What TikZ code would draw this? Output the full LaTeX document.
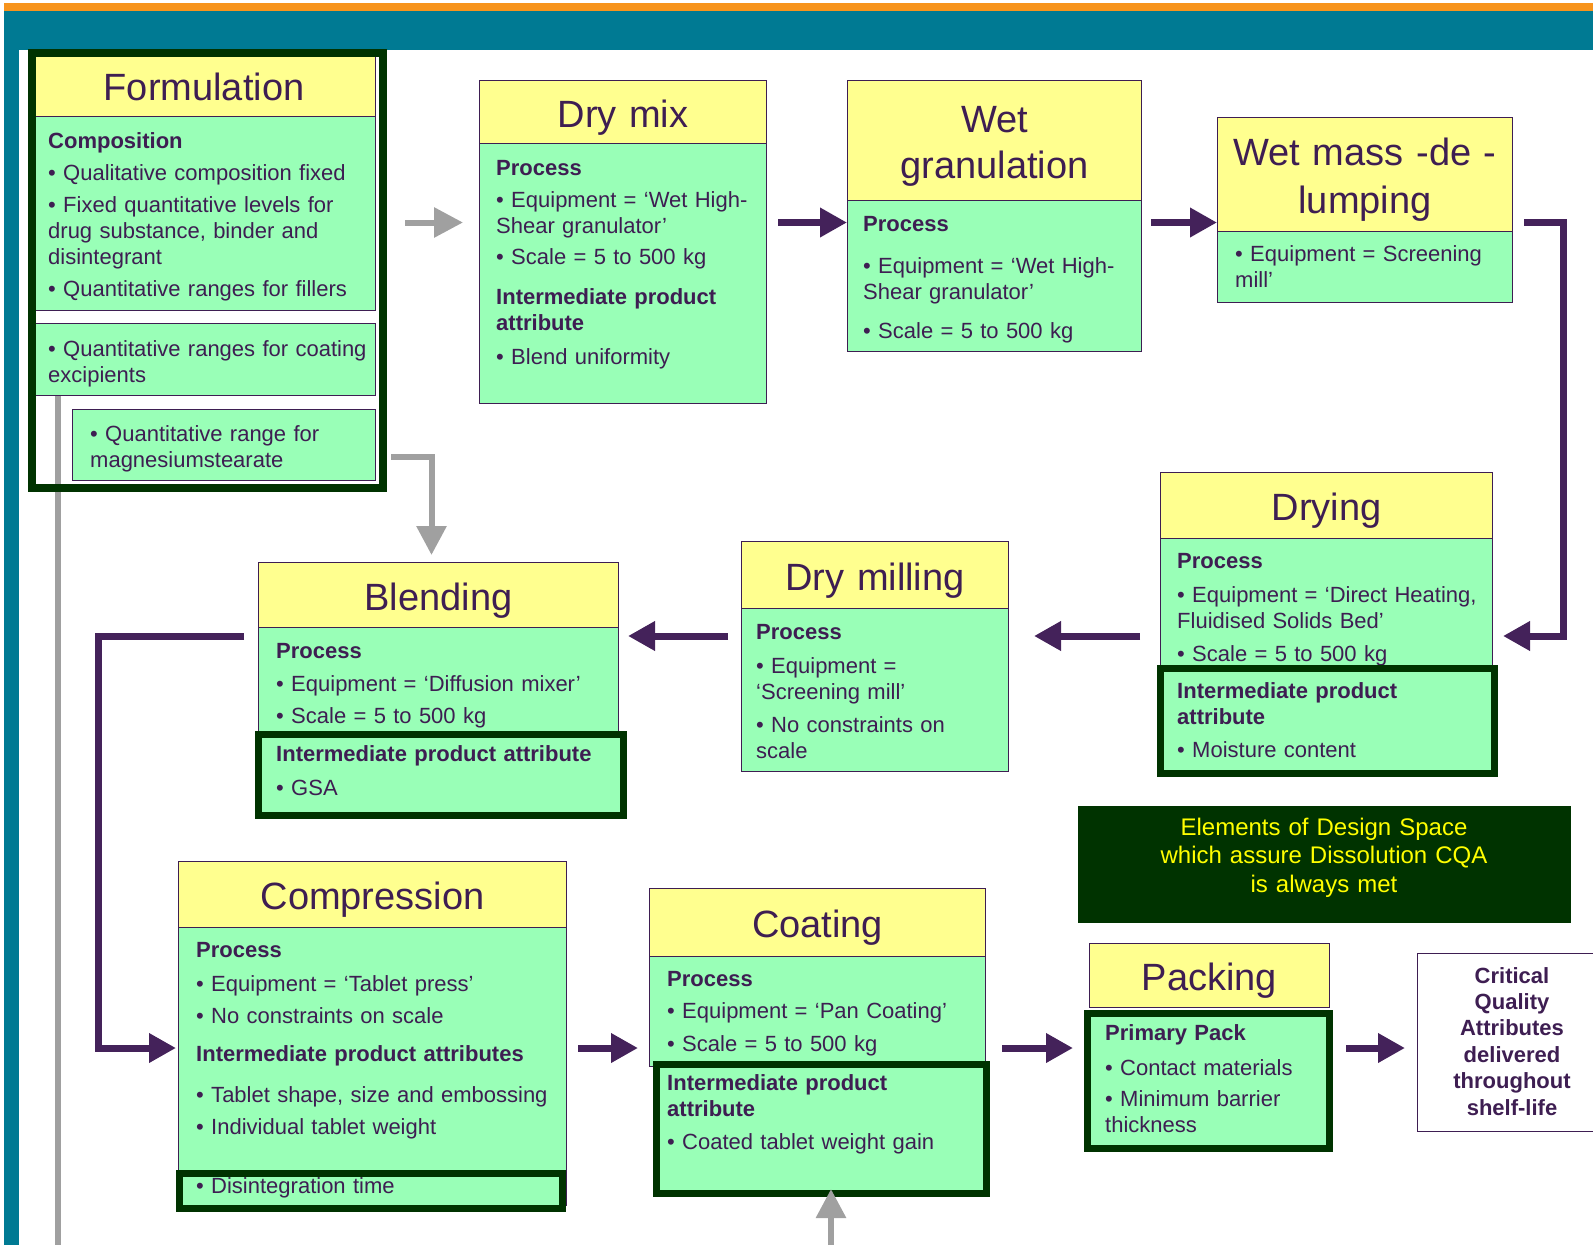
\documentclass[tikz,border=0pt]{standalone}
\usepackage{fontspec}
\setmainfont{Liberation Sans}
\usetikzlibrary{arrows.meta}

\definecolor{headyellow}{RGB}{255,255,143}
\definecolor{bodygreen}{RGB}{153,255,183}
\definecolor{keygreen}{RGB}{0,51,0}
\definecolor{ink}{RGB}{62,30,82}
\definecolor{flowpurple}{RGB}{68,34,90}
\definecolor{feedgrey}{RGB}{160,160,160}
\definecolor{banner}{RGB}{0,122,147}
\definecolor{stripe}{RGB}{247,148,29}
\definecolor{spacetext}{RGB}{255,255,0}

\newcommand{\bodyfont}{\fontsize{22}{26}\selectfont}
\newcommand{\titlefont}{\fontsize{38}{46}\selectfont}

\begin{document}
\begin{tikzpicture}[x=1pt, y=-1pt,
    head/.style 2 args={draw=ink, line width=1pt, fill=headyellow, anchor=north west,
        inner sep=0pt, minimum width=#1, text width=#1, minimum height=#2,
        align=center, text=ink, font=\titlefont, text height=30pt, text depth=0pt},
    body/.style 2 args={draw=ink, line width=1pt, fill=bodygreen, anchor=north west,
        inner sep=0pt, minimum width=#1, minimum height=#2},
    keybox/.style 2 args={draw=keygreen, line width=7pt, fill=bodygreen, anchor=north west,
        inner sep=0pt, minimum width=#1, minimum height=#2},
    txt/.style={anchor=base west, inner sep=0pt, text width=400pt, align=left,
        text=ink, font=\bodyfont},
    flow/.style={draw=flowpurple, line width=7pt, -{Triangle[length=27pt,width=28pt]}},
    feed/.style={draw=feedgrey, line width=6pt, -{Triangle[length=29pt,width=29pt]}}
]
\useasboundingbox (0,0) rectangle (1593,1245);

% banner
\fill[stripe] (4,3) rectangle (1593,11);
\fill[banner] (4,11) rectangle (1593,50);
\fill[banner] (4,50) rectangle (19,1245);

% rows for the connectors
\coordinate (row1) at (0,222.5);
\coordinate (row2) at (0,636);
\coordinate (row3) at (0,1048);
\coordinate (rightTurn) at (1563,0);
\coordinate (leftTurn) at (98,0);

% Formulation
\node[head={343pt}{63pt}] (formHead) at (32,53) {Formulation};
\node[body={343pt}{194pt}] (formComp) at (32,116) {};
\node[body={343pt}{72pt}] (formCoat) at (32,323) {};
\node[body={303pt}{71pt}] (formMag) at (72,409) {};
\node[txt] (formCompTxt) at (48,148) {\textbf{Composition}\\[6pt]
    • Qualitative composition fixed\\[6pt]
    • Fixed quantitative levels for\\ drug substance, binder and\\ disintegrant\\[6pt]
    • Quantitative ranges for fillers};
\node[txt] (formCoatTxt) at (48,356) {• Quantitative ranges for coating\\ excipients};
\node[txt] (formMagTxt) at (90,441) {• Quantitative range for\\ magnesiumstearate};
\coordinate (feedEnd) at (58,1245);
\draw[feedgrey, line width=6pt] (feedEnd |- formCoat.south) -- (feedEnd);
\node[draw=keygreen, line width=8pt, anchor=north west, inner sep=0pt,
    minimum width=351pt, minimum height=435pt] (form) at (28,49) {};

% Dry mix
\node[head={287pt}{63pt}] (drymixHead) at (479,80) {Dry mix};
\node[body={287pt}{260pt}] (drymix) at (479,143) {};
\node[txt] (drymixTxt) at (496,175) {\textbf{Process}\\[6pt]
    • Equipment = `Wet High-\\ Shear granulator'\\[5pt]
    • Scale = 5 to 500 kg\\[14pt]
    \textbf{Intermediate product}\\ \textbf{attribute}\\[8pt]
    • Blend uniformity};

% Wet granulation
\node[head={294pt}{120pt}, text depth=46pt] (wetHead) at (847,80) {Wet\\ granulation};
\node[body={294pt}{151pt}] (wet) at (847,200) {};
\node[txt] (wetTxt) at (863,231) {\textbf{Process}\\[16pt]
    • Equipment = `Wet High-\\ Shear granulator'\\[13pt]
    • Scale = 5 to 500 kg};

% Wet mass de-lumping
\node[head={295pt}{114pt}, text depth=48pt] (lumpHead) at (1217,117) {Wet mass -de -\\[2pt] lumping};
\node[body={295pt}{71pt}] (lump) at (1217,231) {};
\node[txt] (lumpTxt) at (1235,261) {• Equipment = Screening\\ mill'};

% Drying
\node[head={332pt}{66pt}] (dryHead) at (1160,472) {Drying};
\node[body={332pt}{160pt}] (dry) at (1160,538) {};
\node[txt] (dryTxt) at (1177,568) {\textbf{Process}\\[8pt]
    • Equipment = `Direct Heating,\\ Fluidised Solids Bed'\\[7pt]
    • Scale = 5 to 500 kg};
\node[keybox={334pt}{105pt}] (dryKey) at (1156.5,664.5) {};
\node[txt] (dryKeyTxt) at (1177,698) {\textbf{Intermediate product}\\ \textbf{attribute}\\[7pt]
    • Moisture content};

% Dry milling
\node[head={267pt}{67pt}] (millHead) at (741,541) {Dry milling};
\node[body={267pt}{163pt}] (mill) at (741,608) {};
\node[txt] (millTxt) at (756,639) {\textbf{Process}\\[8pt]
    • Equipment =\\ `Screening mill'\\[7pt]
    • No constraints on\\ scale};

% Blending
\node[head={360pt}{65pt}] (blendHead) at (258,562) {Blending};
\node[body={360pt}{110pt}] (blend) at (258,627) {};
\node[txt] (blendTxt) at (276,658) {\textbf{Process}\\[7pt]
    • Equipment = `Diffusion mixer'\\[6pt]
    • Scale = 5 to 500 kg};
\node[keybox={365pt}{81pt}] (blendKey) at (254.5,730.5) {};
\node[txt] (blendKeyTxt) at (276,761) {\textbf{Intermediate product attribute}\\[8pt] • GSA};

% Compression
\node[head={388pt}{66pt}] (compHead) at (178,861) {Compression};
\node[body={388pt}{278pt}] (comp) at (178,927) {};
\node[txt] (compTxt) at (196,957) {\textbf{Process}\\[8pt]
    • Equipment = `Tablet press'\\[6pt]
    • No constraints on scale\\[12pt]
    \textbf{Intermediate product attributes}\\[15pt]
    • Tablet shape, size and embossing\\[6pt]
    • Individual tablet weight};
\node[keybox={383pt}{35pt}] (compKey) at (175.5,1169.5) {};
\node[txt] (compKeyTxt) at (196,1193) {• Disintegration time};

% Coating
\node[head={336pt}{68pt}] (coatHead) at (649,888) {Coating};
\node[body={336pt}{110pt}] (coat) at (649,956) {};
\node[txt] (coatTxt) at (667,986) {\textbf{Process}\\[6pt]
    • Equipment = `Pan Coating'\\[7pt]
    • Scale = 5 to 500 kg};
\node[keybox={330pt}{129pt}] (coatKey) at (652.5,1060.5) {};
\node[txt] (coatKeyTxt) at (667,1090) {\textbf{Intermediate product}\\ \textbf{attribute}\\[7pt]
    • Coated tablet weight gain};

% Packing
\node[head={240pt}{64pt}] (packHead) at (1089,943) {Packing};
\node[keybox={242pt}{135pt}] (packKey) at (1083.5,1009.5) {};
\node[txt] (packKeyTxt) at (1105,1040) {\textbf{Primary Pack}\\[9pt]
    • Contact materials\\[5pt]
    • Minimum barrier\\ thickness};

% Design space note and end result
\node[fill=keygreen, anchor=north west, inner sep=0pt,
    minimum width=493pt, minimum height=117pt] (design) at (1078,806) {};
\node[anchor=base, inner sep=0pt, text width=480pt, align=center, text=spacetext,
    font=\fontsize{24}{28.5}\selectfont] (designTxt) at (1324,835)
    {Elements of Design Space\\ which assure Dissolution CQA\\ is always met};
\node[draw=ink, line width=1pt, fill=white, anchor=north west, inner sep=0pt,
    minimum width=190pt, minimum height=178pt] (cqa) at (1417,953) {};
\node[anchor=base, inner sep=0pt, text width=170pt, align=center, text=ink,
    font=\fontsize{22}{26.4}\selectfont\bfseries] (cqaTxt) at (1512,983)
    {Critical\\ Quality\\ Attributes\\ delivered\\ throughout\\ shelf-life};

% Grey feeds
\draw[feed] ([xshift=18pt]form.east |- row1) -- ([xshift=-16pt]drymix.west |- row1);
\draw[feed, shorten >=7pt] ([xshift=4pt, yshift=35pt]form.south east) -| ([xshift=-7pt]blendHead.north);
\coordinate (coatFeed) at (831,1245);
\draw[feed] (coatFeed) -- ([yshift=7.5pt]coatKey.south -| coatFeed);

% Process flow
\draw[flow] ([xshift=11pt]drymix.east |- row1) -- (wet.west |- row1);
\draw[flow] ([xshift=9pt]wet.east |- row1) -- (lump.west |- row1);
\draw[flow] ([xshift=11pt]lump.east |- row1) -- (rightTurn |- row1) -- (rightTurn |- row2)
    -- ([xshift=10pt]dry.east |- row2);
\draw[flow] ([xshift=-20pt]dry.west |- row2) -- ([xshift=25pt]mill.east |- row2);
\draw[flow] ([xshift=-13pt]mill.west |- row2) -- ([xshift=9pt]blend.east |- row2);
\draw[flow] ([xshift=-14pt]blend.west |- row2) -- (leftTurn |- row2) -- (leftTurn |- row3)
    -- ([xshift=-2pt]comp.west |- row3);
\draw[flow] ([xshift=11pt]comp.east |- row3) -- ([xshift=-11pt]coat.west |- row3);
\draw[flow] ([xshift=12.5pt]coatKey.east |- row3) -- ([xshift=-10.5pt]packKey.west |- row3);
\draw[flow] ([xshift=13.5pt]packKey.east |- row3) -- ([xshift=-12pt]cqa.west |- row3);
\end{tikzpicture}
\end{document}
